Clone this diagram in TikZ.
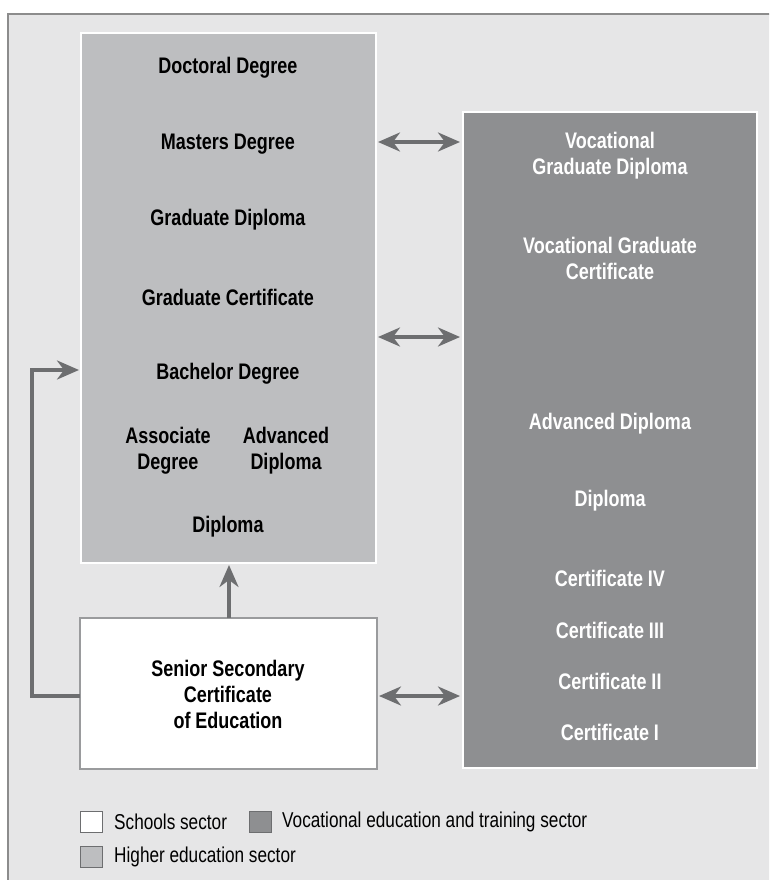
\documentclass[tikz,border=0pt]{standalone}
\usepackage{fontspec}
\setmainfont{Liberation Sans}[FakeStretch=0.8]
\usetikzlibrary{arrows.meta}

\definecolor{framebg}{HTML}{E6E6E7}
\definecolor{frameline}{HTML}{8C8C8C}
\definecolor{hefill}{HTML}{BDBEC0}
\definecolor{vetfill}{HTML}{8E8F91}
\definecolor{arrowgrey}{HTML}{6D6E70}
\definecolor{boxline}{HTML}{9A9B9D}

\tikzset{
  sector/.style={draw=white, line width=2pt, inner sep=0pt, outer sep=0pt},
  qual/.style={font=\bfseries\fontsize{22.5}{26}\selectfont, align=center, inner sep=0pt, yshift=-2pt},
  vetqual/.style={qual, text=white},
  arrowhead/.tip={Stealth[length=22pt,width=19pt,inset=7pt]},
  link/.style={draw=arrowgrey, line width=3.5pt, -arrowhead},
  twoway/.style={draw=arrowgrey, line width=3.5pt, arrowhead-arrowhead, shorten <=2pt, shorten >=3pt},
  keybox/.style={draw=arrowgrey, line width=1pt, minimum width=22pt, minimum height=21pt, inner sep=0pt},
  keytext/.style={font=\fontsize{21.5}{26}\selectfont, anchor=west, inner sep=0pt}
}

\begin{document}
\begin{tikzpicture}[x=1pt,y=-1pt]
    \clip (0,0) rectangle (769,880);
    \fill[white] (0,0) rectangle (769,880);
    \draw[frameline, fill=framebg, line width=2pt] (8,14) rectangle (800,920);

    % sectors
    \node[sector, fill=hefill, minimum width=295pt, minimum height=530pt] (he) at (228.5,298) {};
    \node[sector, fill=vetfill, minimum width=294pt, minimum height=656pt] (vet) at (610,440) {};
    \node[draw=boxline, line width=2pt, fill=white, minimum width=297pt, minimum height=151pt,
          inner sep=0pt, outer sep=0pt] (ssce) at (228.5,693.5) {};

    % higher education
    \node[qual] (doct) at (228,66) {Doctoral Degree};
    \node[qual] (mast) at (228,142) {Masters Degree};
    \node[qual] (gdip) at (228,218) {Graduate Diploma};
    \node[qual] (gcert) at (228,295) {Graduate Certificate};
    \node[qual] (bach) at (228,372) {Bachelor Degree};
    \node[qual] (assoc) at (168,449) {Associate\\Degree};
    \node[qual] (adip) at (286,449) {Advanced\\Diploma};
    \node[qual] (dip) at (228,525) {Diploma};

    % vocational education and training
    \node[vetqual] (vgdip) at (610,154) {Vocational\\Graduate Diploma};
    \node[vetqual] (vgcert) at (610,256) {Vocational Graduate\\Certificate};
    \node[vetqual] (vadip) at (610,422) {Advanced Diploma};
    \node[vetqual] (vdip) at (610,499) {Diploma};
    \node[vetqual] (cert4) at (610,576) {Certificate IV};
    \node[vetqual] (cert3) at (610,628) {Certificate III};
    \node[vetqual] (cert2) at (610,679) {Certificate II};
    \node[vetqual] (cert1) at (610,730) {Certificate I};

    % schools
    \node[qual, text depth=0pt] (sstext) at (228,692) {Senior Secondary\\Certificate\\of Education};

    % pathways
    \coordinate (row1) at (0,142);
    \coordinate (row2) at (0,337);
    \coordinate (bend) at (32,696);
    \draw[twoway] (row1 -| he.east) -- (row1 -| vet.west);
    \draw[twoway] (row2 -| he.east) -- (row2 -| vet.west);
    \draw[twoway] (ssce.east |- bend) -- (vet.west |- bend);
    \draw[link, shorten >=2pt] (ssce.north -| 229,0) -- (he.south -| 229,0);
    \draw[link, shorten >=2pt] (ssce.west |- bend) -- (bend) |- (he.west |- 0,370);

    % legend
    \node[keybox, fill=white] (keyschool) at (91,822) {};
    \node[keytext] at (114,822) {Schools sector};
    \node[keybox, fill=vetfill] (keyvet) at (260,822) {};
    \node[keytext] at (282,822) {Vocational education and training sector};
    \node[keybox, fill=hefill] (keyhe) at (91,857) {};
    \node[keytext] at (114,857) {Higher education sector};
\end{tikzpicture}
\end{document}
